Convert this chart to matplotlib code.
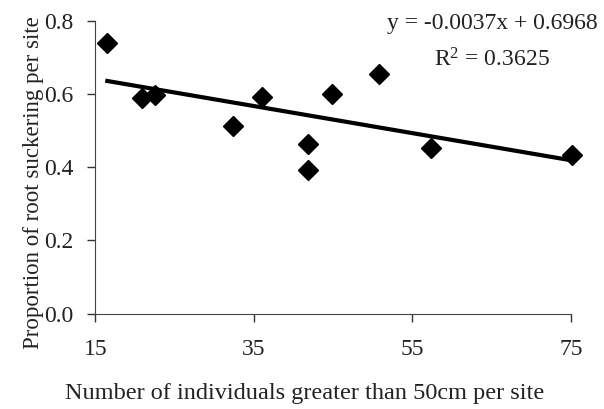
import numpy as np
import matplotlib.pyplot as plt

plt.rcParams['font.family'] = ['Liberation Serif', 'DejaVu Serif']

# number of individuals > 50cm per site vs proportion of root suckering
n_individuals = [16.5, 20.9, 22.5, 32.4, 36.0, 41.8, 41.8, 44.9, 50.8, 57.4, 75.1]
prop_suckering = [0.740, 0.590, 0.597, 0.513, 0.591, 0.464, 0.393, 0.600, 0.655, 0.452, 0.434]

slope = -0.0037
intercept = 0.6968
r_squared = 0.3625

fig = plt.figure(figsize=(6.04, 4.09), dpi=100)
ax = fig.add_axes([0.158, 0.233, 0.787, 0.716])

xs = np.array([min(n_individuals), max(n_individuals)])
ax.plot(xs, slope * xs + intercept, color='black', linewidth=3.0, zorder=2, clip_on=False)
ax.plot(n_individuals, prop_suckering, 'D', color='black', markersize=10, zorder=3,
        clip_on=False)

ax.set_xlim(15, 75)
ax.set_ylim(0, 0.8)
ax.set_xticks([15, 35, 55, 75])
ax.set_yticks(np.arange(0, 0.81, 0.2))
ax.set_yticklabels(['%.1f' % v for v in np.arange(0, 0.81, 0.2)])
ax.tick_params(direction='out', length=6, width=1, labelsize=17, pad=10, colors='#333333',
               labelcolor='#222222')
ax.tick_params(axis='x', pad=12)
for s in ['top', 'right']:
    ax.spines[s].set_visible(False)
ax.spines['left'].set_color('#444444')
ax.spines['bottom'].set_color('#444444')

ax.set_xlabel('Number of individuals greater than 50cm per site', fontsize=17.5, labelpad=17,
              color='#222222')
ax.set_ylabel('Proportion of root suckering per site', fontsize=16.5, labelpad=0,
              color='#222222')
ax.xaxis.label.set_x(0.44)
ax.yaxis.label.set_y(0.447)

ax.text(0.835, 0.99, 'y = %.4fx + %.4f' % (slope, intercept), transform=ax.transAxes,
        ha='center', va='center', fontsize=17, color='#222222')
ax.text(0.835, 0.865, '$\\mathregular{R^2}$ = %.4f' % r_squared, transform=ax.transAxes,
        ha='center', va='center', fontsize=17, color='#222222')

fig.savefig('out.png', dpi=100)
